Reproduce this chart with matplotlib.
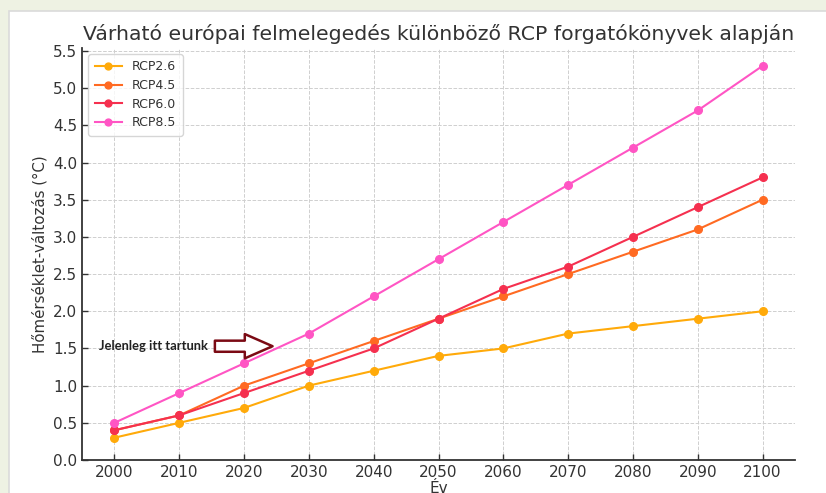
import matplotlib
matplotlib.use("Agg")
import matplotlib.pyplot as plt
from matplotlib.patches import Rectangle

plt.rcParams["font.family"] = ["DejaVu Sans"]

years = [2000, 2010, 2020, 2030, 2040, 2050, 2060, 2070, 2080, 2090, 2100]
rcp26 = [0.3, 0.5, 0.7, 1.0, 1.2, 1.4, 1.5, 1.7, 1.8, 1.9, 2.0]
rcp45 = [0.4, 0.6, 1.0, 1.3, 1.6, 1.9, 2.2, 2.5, 2.8, 3.1, 3.5]
rcp60 = [0.4, 0.6, 0.9, 1.2, 1.5, 1.9, 2.3, 2.6, 3.0, 3.4, 3.8]
rcp85 = [0.5, 0.9, 1.3, 1.7, 2.2, 2.7, 3.2, 3.7, 4.2, 4.7, 5.3]
series_names = ["RCP2.6", "RCP4.5", "RCP6.0", "RCP8.5"]
colors = ["#FFAA0A", "#FF6A22", "#F5304F", "#FF55C4"]
yticks = [0.0, 0.5, 1.0, 1.5, 2.0, 2.5, 3.0, 3.5, 4.0, 4.5, 5.0, 5.5]

W, H = 826, 493
fig = plt.figure(figsize=(W / 100, H / 100), dpi=100, facecolor="#EEF2E3")
panel = Rectangle((9 / W, -0.1), 1.2, 1 - 11 / H + 0.1, transform=fig.transFigure,
                  facecolor="white", edgecolor="#DADADA", linewidth=1.2, zorder=-10)
fig.patches.append(panel)

ax = fig.add_axes([82 / W, 1 - 460 / H, (795 - 82) / W, (460 - 48) / H])
ax.set_facecolor("white")

for name, vals, c in zip(series_names, [rcp26, rcp45, rcp60, rcp85], colors):
    ax.plot(years, vals, marker="o", color=c, linewidth=1.5, markersize=5.5, label=name, zorder=3)

ax.set_xlim(1995, 2105)
ax.set_ylim(0, 5.54)
ax.set_xticks(years)
ax.set_yticks(yticks)
ax.set_yticklabels([f"{v:.1f}" for v in yticks])
ax.grid(True, linestyle="--", color="#CFCFCF", linewidth=0.7)
ax.set_axisbelow(True)
for s in ["top", "right"]:
    ax.spines[s].set_visible(False)
for s in ["left", "bottom"]:
    ax.spines[s].set_color("#333333")
    ax.spines[s].set_linewidth(1.3)
ax.tick_params(direction="in", length=4, width=1, colors="#333333", labelsize=11, labelcolor="#333333")

ax.set_title("Várható európai felmelegedés különböző RCP forgatókönyvek alapján",
             fontsize=14.7, color="#333333", pad=6)
ax.set_xlabel("Év", fontsize=11, color="#333333", labelpad=1)
ax.set_ylabel("Hőmérséklet-változás (°C)", fontsize=10.8, color="#333333", labelpad=4)

leg = ax.legend(loc="upper left", fontsize=9, frameon=True, borderpad=0.5,
                handlelength=2.2, labelspacing=0.45, markerscale=0.9)
leg.get_frame().set_edgecolor("#CCCCCC")
for t in leg.get_texts():
    t.set_color("#333333")

ax.text(1997.6, 1.535, "Jelenleg itt tartunk", fontsize=9.3, fontweight="bold",
        family=["Lato", "DejaVu Sans"], color="#222222", va="center", ha="left")
ax.annotate("", xy=(2024.4, 1.53), xytext=(2015.5, 1.53),
            arrowprops=dict(facecolor="white", edgecolor="#7B0A14", linewidth=1.8,
                            width=8, headwidth=17.5, headlength=20, shrink=0.0))

fig.savefig("out.png", dpi=100, facecolor=fig.get_facecolor())
